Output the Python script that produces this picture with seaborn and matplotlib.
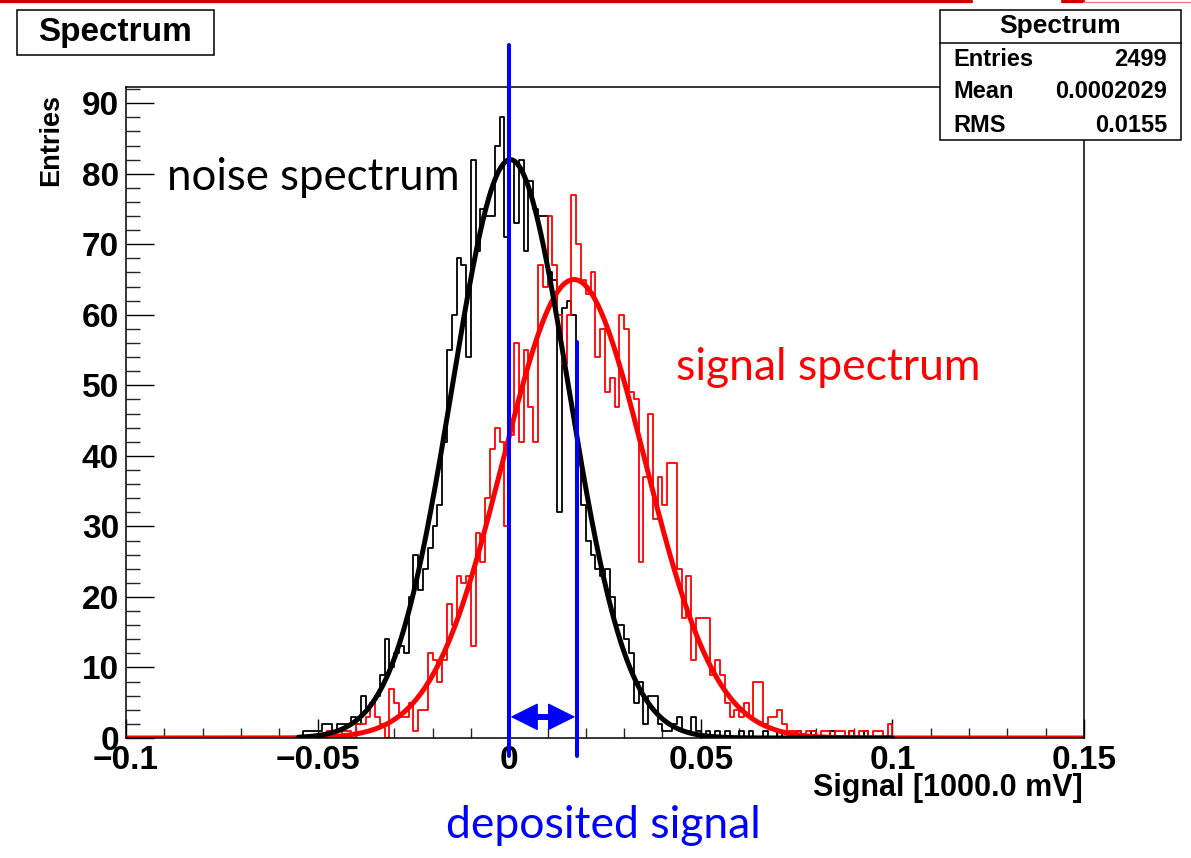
import numpy as np
import pandas as pd
import matplotlib
matplotlib.use("Agg")
import matplotlib.pyplot as plt
from matplotlib.patches import Rectangle
from matplotlib.lines import Line2D
from matplotlib.ticker import MultipleLocator
import seaborn as sns

# ---------------- data ----------------
x_min, x_max, n_bins = -0.1, 0.15, 200

noise_first_bin = 36
noise_counts = [0, 1, 1, 1, 1, 2, 2, 1, 2, 2,          # 36-45
                2, 3, 2, 6, 4, 5, 6, 9, 14, 10,        # 46-55
                12, 13, 12, 20, 26, 21, 24, 27, 30, 33,  # 56-65
                42, 55, 60, 68, 67, 54, 82, 69, 75, 74,  # 66-75
                74, 84, 88, 71, 82, 73, 82, 69, 79, 75,  # 76-85
                74, 74, 66, 65, 32, 61, 62, 60, 40, 33,  # 86-95
                28, 26, 24, 23, 24, 20, 16, 16, 14, 12,  # 96-105
                5, 8, 2, 6, 6, 2, 1, 1, 2, 3,            # 106-115
                1, 1, 3, 1, 0, 1, 0, 1, 0, 1,            # 116-125
                0, 0, 1, 0, 1, 0, 0, 1, 0, 0,            # 126-135
                1, 0, 0, 0, 1, 0, 0, 1, 0, 0,            # 136-145
                0, 1, 0, 0, 0, 1, 0, 0, 1, 0]            # 146-155

signal_first_bin = 40
signal_counts = [0, 0, 1, 0, 0, 1, 1, 0, 2, 2,           # 40-49
                 3, 5, 3, 2, 0, 7, 5, 3, 3, 5,           # 50-59
                 1, 4, 4, 12, 11, 8, 11, 19, 16, 23,     # 60-69
                 22, 23, 13, 29, 25, 34, 41, 44, 42, 30,  # 70-79
                 43, 56, 42, 55, 47, 42, 67, 64, 74, 67,  # 80-89
                 60, 53, 60, 77, 70, 65, 63, 66, 54, 58,  # 90-99
                 49, 51, 47, 60, 58, 49, 48, 25, 37, 46,  # 100-109
                 31, 37, 33, 39, 39, 24, 17, 23, 11, 17,  # 110-119
                 17, 17, 9, 11, 9, 5, 3, 4, 3, 5,         # 120-129
                 3, 8, 8, 2, 3, 3, 4, 2, 1, 1,            # 130-139
                 1, 0, 1, 1, 0, 1, 1, 0, 1, 1,            # 140-149
                 0, 1, 0, 1, 1, 0, 1, 1, 0, 2, 0]         # 150-160

noise_fit = {"amp": 82.0, "mean": 0.0003, "sigma": 0.0152, "lo": -0.055, "hi": 0.10}
signal_fit = {"amp": 65.0, "mean": 0.0169, "sigma": 0.0185, "lo": -0.10, "hi": 0.15}

x_ticks = [-0.1, -0.05, 0.0, 0.05, 0.1, 0.15]
x_tick_labels = ["\u22120.1", "\u22120.05", "0", "0.05", "0.1", "0.15"]
y_ticks = [0, 10, 20, 30, 40, 50, 60, 70, 80, 90]
y_top = 92.3

stats_title = "Spectrum"
stats_rows = [("Entries", "2499"), ("Mean", "0.0002029"), ("RMS", "0.0155")]

zero_line_x = 0.0
signal_line_x = 0.0176

# ---------------- helpers ----------------
W, H = 1191, 858
def fx(px):
    return px / W
def fy(py):
    return 1 - py / H

bin_w = (x_max - x_min) / n_bins
edges = np.linspace(x_min, x_max, n_bins + 1)
centers = 0.5 * (edges[:-1] + edges[1:])

def hist_df(first, vals):
    arr = np.zeros(n_bins)
    arr[first:first + len(vals)] = vals
    return pd.DataFrame({"x": centers, "w": arr})

noise_df = hist_df(noise_first_bin, noise_counts)
signal_df = hist_df(signal_first_bin, signal_counts)

def gauss_df(p):
    xs = np.linspace(p["lo"], p["hi"], 600)
    ys = p["amp"] * np.exp(-0.5 * ((xs - p["mean"]) / p["sigma"]) ** 2)
    return pd.DataFrame({"x": xs, "y": ys})

sns.set_theme(style="white")
plt.rcParams["font.family"] = ["Liberation Sans", "DejaVu Sans"]

fig = plt.figure(figsize=(W / 100, H / 100), dpi=100)
ax = fig.add_axes([fx(126), fy(738), fx(1084) - fx(126), fy(87) - fy(738)])

# histograms
sns.histplot(data=noise_df, x="x", weights="w", binwidth=bin_w, binrange=(x_min, x_max),
             element="step", fill=False, color="black", linewidth=1.3, ax=ax)
sns.histplot(data=signal_df, x="x", weights="w", binwidth=bin_w, binrange=(x_min, x_max),
             element="step", fill=False, color="#ff0000", linewidth=1.3, ax=ax)

# fit curves
sdf = gauss_df(signal_fit)
ndf = gauss_df(noise_fit)
sns.lineplot(data=sdf, x="x", y="y", color="#ff0000", linewidth=3.6, ax=ax,
             estimator=None, sort=False)
sns.lineplot(data=ndf, x="x", y="y", color="black", linewidth=3.6, ax=ax,
             estimator=None, sort=False)

ax.set_xlim(x_min, x_max)
ax.set_ylim(0, y_top)
ax.set_xlabel("")
ax.set_ylabel("")

for s in ax.spines.values():
    s.set_color("black")
    s.set_linewidth(1.1)

ax.set_xticks(x_ticks)
ax.set_xticklabels(x_tick_labels)
ax.set_yticks(y_ticks)
ax.set_yticklabels([str(v) for v in y_ticks])
ax.xaxis.set_minor_locator(MultipleLocator(0.01))
ax.yaxis.set_minor_locator(MultipleLocator(2))
ax.tick_params(axis="x", which="major", direction="in", length=14, width=1.0, pad=5,
               labelsize=24, colors="black")
ax.tick_params(axis="x", which="minor", direction="in", length=7, width=1.0)
ax.tick_params(axis="y", which="major", direction="in", length=20, width=1.0, pad=5,
               labelsize=24, colors="black")
ax.tick_params(axis="y", which="minor", direction="in", length=10, width=1.0)
ax.tick_params(which="both", bottom=True, left=True, top=False, right=False)
for lab in ax.get_xticklabels() + ax.get_yticklabels():
    lab.set_fontweight("bold")

# blue marker lines and arrow
ax.add_line(Line2D([zero_line_x, zero_line_x], [-2.6, 98.3], color="#0000ff",
                   linewidth=2.9, clip_on=False, zorder=10))
ax.add_line(Line2D([signal_line_x, signal_line_x], [-2.6, 56.2], color="#0000ff",
                   linewidth=2.9, clip_on=False, zorder=10))
ax.add_line(Line2D([zero_line_x + 0.002, signal_line_x - 0.002], [3.0, 3.0],
                   color="#0000ff", linewidth=4.3, solid_capstyle="butt", zorder=11))
ax.annotate("", xy=(signal_line_x, 3.0), xytext=(zero_line_x, 3.0),
            arrowprops=dict(arrowstyle="<|-|>,head_length=1.5,head_width=0.75",
                            mutation_scale=12, color="#0000ff", lw=1.0,
                            shrinkA=1, shrinkB=1),
            zorder=11)

# axis titles
fig.text(fx(1083), fy(788), "Signal [1000.0 mV]", ha="right", va="center",
         fontsize=22, fontweight="bold", color="black")
fig.text(fx(51), fy(94), "Entries", ha="center", va="top", rotation=90,
         fontsize=19.5, fontweight="bold", color="black")

# annotations
ann_font = ["Lato", "DejaVu Sans"]
fig.text(fx(167), fy(177), "noise spectrum", ha="left", va="center", fontsize=31.5,
         color="black", family=ann_font)
fig.text(fx(676), fy(368), "signal spectrum", ha="left", va="center", fontsize=32,
         color="#ff0000", family=ann_font)
fig.text(fx(603), fy(826), "deposited signal", ha="center", va="center", fontsize=32,
         color="#0000ff", family=ann_font)

# title box
fig.add_artist(Rectangle((fx(17), fy(55)), fx(214) - fx(17), fy(10) - fy(55),
                         transform=fig.transFigure, facecolor="white",
                         edgecolor="black", linewidth=1.1))
fig.text(fx(115.5), fy(32.5), stats_title, ha="center", va="center", fontsize=24,
         fontweight="bold", color="black")

# stats box
fig.add_artist(Rectangle((fx(940), fy(140)), fx(1181) - fx(940), fy(10) - fy(140),
                         transform=fig.transFigure, facecolor="white",
                         edgecolor="black", linewidth=1.1, zorder=20))
fig.add_artist(Line2D([fx(940), fx(1181)], [fy(42.5), fy(42.5)],
                      transform=fig.transFigure, color="black", linewidth=1.1, zorder=21))
fig.text(fx(1060), fy(26), stats_title, ha="center", va="center", fontsize=19,
         fontweight="bold", color="black", zorder=22)
for i, (k, v) in enumerate(stats_rows):
    yy = 59 + i * 33
    fig.text(fx(953), fy(yy), k, ha="left", va="center", fontsize=17,
             fontweight="bold", color="black", zorder=22)
    fig.text(fx(1167), fy(yy), v, ha="right", va="center", fontsize=17,
             fontweight="bold", color="black", zorder=22)

# slide header remnants at the top
fig.add_artist(Line2D([0, fx(971)], [fy(1.2), fy(1.2)], transform=fig.transFigure,
                      color="#cc0000", linewidth=2.4))
fig.add_artist(Line2D([fx(1062), fx(1083)], [fy(1.2), fy(1.2)], transform=fig.transFigure,
                      color="#cc0000", linewidth=2.4))
fig.add_artist(Line2D([fx(1083), 1], [fy(1.5), fy(1.5)], transform=fig.transFigure,
                      color="#e88080", linewidth=1.0))

fig.savefig("out.png", dpi=100)
